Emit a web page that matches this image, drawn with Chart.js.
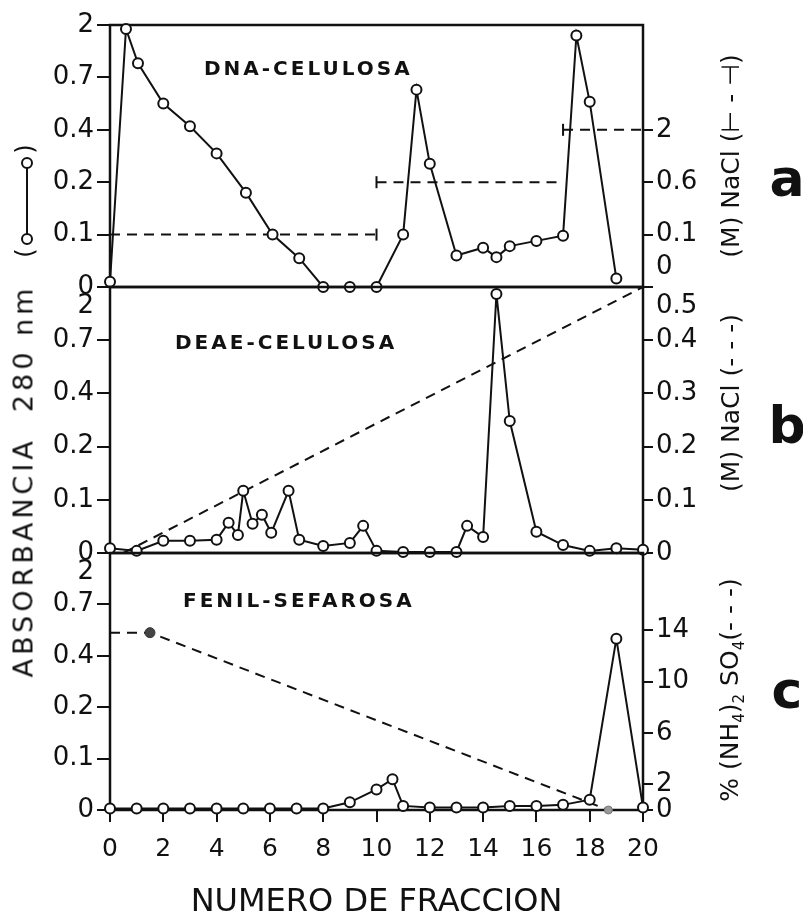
<!DOCTYPE html>
<html>
<head>
<meta charset="utf-8">
<script src="https://cdn.jsdelivr.net/npm/chart.js@4.4.1/dist/chart.umd.min.js"></script>
<style>
html, body { margin: 0; padding: 0; background: #fff; }
#page { position: relative; width: 803px; height: 922px; overflow: hidden; font-family: "DejaVu Sans", sans-serif; color: #111; }
.panel { position: absolute; left: 0; width: 803px; }
.lbl { position: absolute; white-space: nowrap; line-height: 1; }
.name { font-size: 20px; font-weight: bold; letter-spacing: 3px; transform: translateY(-50%); }
.rot { transform: translate(-50%, -50%) rotate(-90deg); }
.side { font-size: 25px; }
.tag { font-size: 52px; font-weight: bold; transform: translate(-50%, -50%); }
</style>
</head>
<body>
<div id="page">
  <div class="panel" style="top:0;height:332px"><canvas id="chartA"></canvas></div>
  <div class="panel" style="top:242px;height:356px"><canvas id="chartB"></canvas></div>
  <div class="panel" style="top:508px;height:414px"><canvas id="chartC"></canvas></div>

  <div class="lbl name" style="left:204px;top:68px">DNA-CELULOSA</div>
  <div class="lbl name" style="left:175px;top:342px">DEAE-CELULOSA</div>
  <div class="lbl name" style="left:183px;top:600px">FENIL-SEFAROSA</div>

  <div class="lbl rot" style="left:23px;top:481px;font-size:27px;letter-spacing:4px">ABSORBANCIA&nbsp;&nbsp;280 nm</div>
  <div class="lbl rot side" style="left:730px;top:156px">(M) NaCl (⊢&nbsp;-&nbsp;⊣)</div>
  <div class="lbl rot side" style="left:730px;top:403px">(M) NaCl (- - -)</div>
  <div class="lbl rot side" style="left:732px;top:690px">% (NH<sub style="font-size:15px">4</sub>)<sub style="font-size:15px">2</sub> SO<sub style="font-size:15px">4</sub>(- - -)</div>

  <div class="lbl tag" style="left:787px;top:178px">a</div>
  <div class="lbl tag" style="left:787px;top:425px">b</div>
  <div class="lbl tag" style="left:787px;top:690px">c</div>
</div>
<script>
// absorbancia (280 nm) por fraccion
const fracA = [0, 0.6, 1.05, 2, 3, 4, 5.1, 6.1, 7.1, 8, 9, 10, 11, 11.5, 12, 13, 14, 14.5, 15, 16, 17, 17.5, 18, 19];
const absA = [0.01, 1.9, 1.05, 0.55, 0.42, 0.31, 0.18, 0.1, 0.055, 0, 0, 0, 0.1, 0.63, 0.27, 0.06, 0.075, 0.057, 0.078, 0.088, 0.098, 1.74, 0.56, 0.016];

const fracB = [0, 1, 2, 3, 4, 4.45, 4.8, 5, 5.35, 5.7, 6.05, 6.7, 7.1, 8, 9, 9.5, 10, 11, 12, 13, 13.4, 14, 14.5, 15, 16, 17, 18, 19, 20];
const absB = [0.009, 0.004, 0.023, 0.023, 0.025, 0.057, 0.034, 0.117, 0.055, 0.072, 0.038, 0.117, 0.025, 0.013, 0.019, 0.051, 0.004, 0.002, 0.002, 0.002, 0.051, 0.03, 1.83, 0.296, 0.04, 0.015, 0.004, 0.009, 0.006];

const fracC = [0, 1, 2, 3, 4, 5, 6, 7, 8, 9, 10, 10.6, 11, 12, 13, 14, 15, 16, 17, 18, 19, 20];
const absC = [0.003, 0.003, 0.003, 0.003, 0.003, 0.003, 0.003, 0.003, 0.003, 0.015, 0.04, 0.06, 0.008, 0.005, 0.005, 0.005, 0.008, 0.008, 0.01, 0.02, 0.5, 0.005];

// NaCl escalonado (panel a)
const naclStartA = [0, 10, 17];
const naclEndA = [10, 17, 20];
const naclLevelA = [0.1, 0.6, 2];

// gradiente NaCl (panel b)
const naclFracB = [0.5, 20];
const naclB = [0, 0.5];

// (NH4)2SO4 % (panel c)
const sulfFracC = [0, 1.5, 18.7];
const sulfC = [13.8, 13.8, 0];

// tick labels
const absTicks = [0, 0.1, 0.2, 0.4, 0.7, 2];
const naclTicksA = [0, 0.1, 0.6, 2];
const naclTicksB = [0, 0.1, 0.2, 0.3, 0.4, 0.5];
const sulfTicksC = [0, 2, 6, 10, 14];
const fracTicks = [0, 2, 4, 6, 8, 10, 12, 14, 16, 18, 20];

const INK = '#111';
const SLOTS = 5;
const BREAKS = { yA: absTicks, yB: absTicks, yC: absTicks, rA: naclTicksA };

// axis whose labelled values sit at equal steps (as on the original paper)
class BreakScale extends Chart.LinearScale {
    determineDataLimits() { this.min = 0; this.max = SLOTS; }
    buildTicks() { return BREAKS[this.id].map(v => ({ value: v })); }
    toSlot(v) {
        const b = BREAKS[this.id];
        if (v <= b[0]) return 0;
        for (let i = 1; i < b.length; i++) {
            if (v <= b[i]) return i - 1 + (v - b[i - 1]) / (b[i] - b[i - 1]);
        }
        return b.length - 1;
    }
    getPixelForValue(v) {
        if (v === null || v === undefined || isNaN(v)) return NaN;
        return this.getPixelForDecimal(this.toSlot(v) / SLOTS);
    }
    getValueForPixel(p) { return this.getDecimalForPixel(p) * SLOTS; }
}
BreakScale.id = 'breaks';
BreakScale.defaults = {};
Chart.register(BreakScale);

const pts = (xs, ys) => xs.map((x, i) => ({ x: x, y: ys[i] }));
const tickFont = { family: 'DejaVu Sans', size: 26, lineHeight: 1.5 };

const frame = {
    id: 'frame',
    beforeDatasetsDraw(chart) {
        const { ctx, chartArea: a } = chart;
        ctx.save();
        ctx.strokeStyle = INK;
        ctx.lineWidth = 2.5;
        ctx.strokeRect(a.left, a.top, a.right - a.left, a.bottom - a.top);
        ctx.restore();
    }
};

// little (o-o) key at the left of panel a
const absKey = {
    id: 'absKey',
    afterDraw(chart) {
        const ctx = chart.ctx;
        ctx.save();
        ctx.strokeStyle = INK;
        ctx.lineWidth = 2;
        ctx.beginPath();
        ctx.moveTo(27, 165);
        ctx.lineTo(27, 238);
        ctx.stroke();
        [163, 239].forEach(y => {
            ctx.beginPath();
            ctx.arc(27, y, 5, 0, Math.PI * 2);
            ctx.fillStyle = '#fff';
            ctx.fill();
            ctx.stroke();
        });
        ctx.fillStyle = INK;
        ctx.font = '24px "DejaVu Sans"';
        ctx.textAlign = 'center';
        ctx.textBaseline = 'middle';
        ctx.translate(27, 201);
        ctx.rotate(-Math.PI / 2);
        ctx.fillText('(', -52, 0);
        ctx.fillText(')', 52, 0);
        ctx.restore();
    }
};

function leftAxis(shiftTop) {
    return {
        type: 'breaks',
        position: 'left',
        grid: { display: true, drawOnChartArea: false, drawTicks: true, tickLength: 13, color: INK, lineWidth: 2 },
        border: { display: false },
        ticks: {
            color: INK, font: tickFont, padding: 3, autoSkip: false,
            callback: v => (shiftTop && v === 2) ? ['', '2'] : String(v)
        },
        afterFit: s => { s.width = 110; }
    };
}

function rightAxis(extra, label) {
    return Object.assign({
        position: 'right',
        grid: { display: true, drawOnChartArea: false, drawTicks: true, tickLength: 10, color: INK, lineWidth: 2 },
        border: { display: false },
        ticks: { color: INK, font: tickFont, padding: 3, autoSkip: false, callback: label },
        afterFit: s => { s.width = 160; }
    }, extra);
}

function hiddenX() {
    return { type: 'linear', min: 0, max: 20, display: false };
}

const absStyle = {
    borderColor: INK, borderWidth: 2, tension: 0,
    pointRadius: 5, pointBackgroundColor: '#fff', pointBorderColor: INK, pointBorderWidth: 2
};
const dashStyle = { borderColor: INK, borderWidth: 2, borderDash: [10, 7], pointRadius: 0, tension: 0 };

function makeChart(id, datasets, scales, padding, extraPlugins) {
    return new Chart(document.getElementById(id), {
        type: 'line',
        data: { datasets: datasets },
        options: {
            responsive: true,
            maintainAspectRatio: false,
            animation: false,
            events: [],
            layout: { padding: padding },
            datasets: { line: { clip: false } },
            plugins: { legend: { display: false }, tooltip: { enabled: false } },
            scales: scales
        },
        plugins: [frame].concat(extraPlugins || [])
    });
}

// panel a
const stepData = [];
const barData = [];
naclLevelA.forEach((lvl, i) => {
    stepData.push({ x: naclStartA[i], y: lvl }, { x: naclEndA[i], y: lvl }, { x: naclEndA[i], y: null });
    if (i > 0) barData.push({ x: naclStartA[i], y: lvl });
});
barData.unshift({ x: naclEndA[0], y: naclLevelA[0] });

makeChart('chartA', [
    Object.assign({ data: pts(fracA, absA), yAxisID: 'yA' }, absStyle),
    Object.assign({ data: stepData, yAxisID: 'rA', spanGaps: false }, dashStyle),
    { data: barData, yAxisID: 'rA', showLine: false, pointStyle: 'line', rotation: 90, pointRadius: 6, pointBorderWidth: 2, pointBorderColor: INK }
], {
    x: hiddenX(),
    yA: leftAxis(false),
    rA: rightAxis({ type: 'breaks' }, v => v === 0 ? ['0', ''] : String(v))
}, { top: 25, bottom: 45, left: 0, right: 0 }, [absKey]);

// panel b
makeChart('chartB', [
    Object.assign({ data: pts(fracB, absB), yAxisID: 'yB' }, absStyle),
    Object.assign({ data: pts(naclFracB, naclB), yAxisID: 'rB' }, dashStyle)
], {
    x: hiddenX(),
    yB: leftAxis(true),
    rB: rightAxis({
        type: 'linear', min: 0, max: 0.5,
        afterBuildTicks: s => { s.ticks = naclTicksB.map(v => ({ value: v })); }
    }, v => v === 0.5 ? ['', '0.5'] : String(v))
}, { top: 45, bottom: 45, left: 0, right: 0 });

// panel c
makeChart('chartC', [
    Object.assign({ data: pts(fracC, absC), yAxisID: 'yC' }, absStyle),
    Object.assign({}, dashStyle, {
        data: pts(sulfFracC, sulfC), yAxisID: 'rC',
        pointRadius: [0, 5, 4], pointBackgroundColor: [INK, '#444', '#999'], pointBorderColor: [INK, '#333', '#777'], pointBorderWidth: 1
    })
], {
    x: {
        type: 'linear', min: 0, max: 20, position: 'bottom',
        afterBuildTicks: s => { s.ticks = fracTicks.map(v => ({ value: v })); },
        grid: { display: true, drawOnChartArea: false, drawTicks: true, tickLength: 12, color: INK, lineWidth: 2 },
        border: { display: false },
        ticks: { color: INK, font: { family: 'DejaVu Sans', size: 25 }, padding: 12, maxRotation: 0, autoSkip: false, callback: v => String(v) },
        title: { display: true, text: 'NUMERO DE FRACCION', color: INK, font: { family: 'DejaVu Sans', size: 32 }, padding: { top: 0, bottom: 0 } },
        afterFit: s => { s.height = 112; }
    },
    yC: leftAxis(true),
    rC: rightAxis({
        type: 'linear', min: 0, max: 20,
        afterBuildTicks: s => { s.ticks = sulfTicksC.map(v => ({ value: v })); }
    }, v => String(v))
}, { top: 45, bottom: 0, left: 0, right: 0 });
</script>
</body>
</html>
